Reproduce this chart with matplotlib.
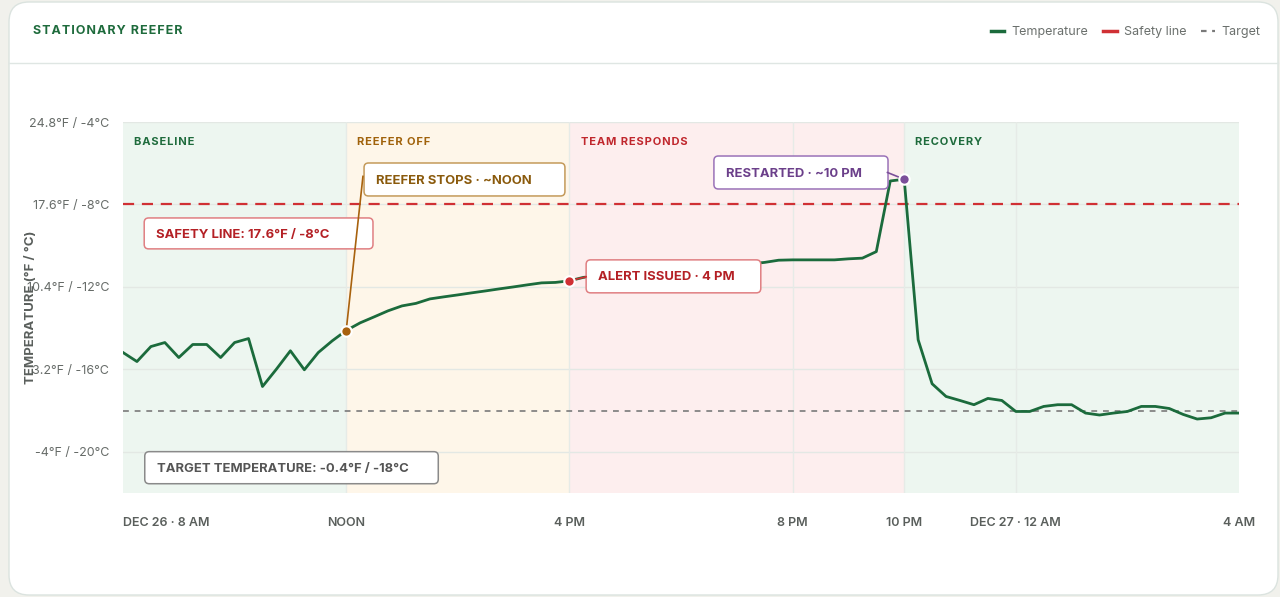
import matplotlib
matplotlib.use("Agg")
import matplotlib.pyplot as plt
from matplotlib.patches import FancyBboxPatch
from matplotlib.lines import Line2D
from matplotlib.transforms import IdentityTransform
import numpy as np

plt.rcParams['font.family'] = ['Inter', 'DejaVu Sans']

# temperature readings every 15 min, Dec 26 8 AM -> Dec 27 4 AM (deg F)
temp_f = [
    4.67, 3.88, 5.19, 5.54, 4.23, 5.37, 5.37, 4.23, 5.54, 5.89, 1.70, 3.22, 4.82, 3.16, 4.67, 5.69, 6.59,
    7.26, 7.78, 8.31, 8.74, 8.96, 9.35, 9.53, 9.70, 9.88, 10.05, 10.23, 10.40, 10.58, 10.75, 10.79, 10.93,
    11.23, 11.36, 11.49, 11.62, 11.71, 11.80, 11.89, 11.97, 12.06, 12.15, 12.23, 12.32, 12.41, 12.54, 12.73,
    12.76, 12.76, 12.76, 12.76, 12.85, 12.91, 13.48, 19.65, 19.80,
    5.78, 1.94, 0.83, 0.48, 0.11, 0.66, 0.48, -0.48, -0.48, -0.04, 0.11, 0.11, -0.62, -0.79, -0.62, -0.48,
    -0.04, -0.04, -0.22, -0.74, -1.14, -1.03, -0.62, -0.62,
]
hours = np.arange(len(temp_f)) * 0.25  # hours since Dec 26 8 AM

safety_f = 17.6
target_f = -0.4

phase_names = ["BASELINE", "REEFER OFF", "TEAM RESPONDS", "RECOVERY"]
phase_start = [0, 4, 8, 14]
phase_end = [4, 8, 14, 20]
phase_fill = ["#edf6f0", "#fef6e9", "#fdeeee", "#edf6f0"]
phase_text = ["#1e6b3c", "#a0620b", "#c0272d", "#1e6b3c"]

xtick_pos = [0, 4, 8, 12, 14, 16, 20]
xtick_lab = ["DEC 26 · 8 AM", "NOON", "4 PM", "8 PM", "10 PM", "DEC 27 · 12 AM", "4 AM"]
ytick_pos = [24.8, 17.6, 10.4, 3.2, -4]
ytick_lab = ["24.8°F / -4°C", "17.6°F / -8°C", "10.4°F / -12°C", "3.2°F / -16°C", "-4°F / -20°C"]

green = "#1b6b3c"
red = "#d03034"
amber = "#a8620e"
purple = "#7b4f9a"


def spaced(s):
    return "\u200a".join(s)


fig = plt.figure(figsize=(12.8, 5.97), dpi=100)
fig.patch.set_facecolor("#f1f1ec")

# white card behind everything
card = FancyBboxPatch((9, 2), 1269, 593, boxstyle="round,pad=0,rounding_size=20",
                      transform=IdentityTransform(), facecolor="white", edgecolor="#dbe3df",
                      lw=1, zorder=-10)
fig.add_artist(card)
fig.add_artist(Line2D([9/1280, 1278/1280], [1-63/597, 1-63/597], transform=fig.transFigure,
                      color="#dfe6e3", lw=1, zorder=-9))
fig.text(33/1280, 1-31/597, spaced("STATIONARY REEFER"), fontsize=9, fontweight="bold",
         color="#1e6b3c", va="center", ha="left")

ax = fig.add_axes([123/1280, 1-493/597, 1116/1280, 371/597])
ax.set_facecolor("none")
ax.set_xlim(0, 20)
ax.set_ylim(-7.6, 24.8)

for i in range(len(phase_names)):
    ax.axvspan(phase_start[i], phase_end[i], color=phase_fill[i], lw=0, zorder=0)
    ax.annotate(spaced(phase_names[i]), xy=(phase_start[i], 1), xycoords=("data", "axes fraction"),
                xytext=(8, -14.5), textcoords="offset points", fontsize=8, fontweight="bold",
                color=phase_text[i], va="center", ha="left", zorder=5)

for y in ytick_pos:
    ax.axhline(y, color="#e3e8e4", lw=1, zorder=0.5)
for x in xtick_pos[1:-1]:
    ax.axvline(x, color="#e6ebe7", lw=1, zorder=0.5)

ax.axhline(safety_f, color=red, lw=1.6, ls=(0, (5, 3.5)), zorder=2)
ax.axhline(target_f, color="#7a7a7a", lw=1.2, ls=(0, (3.5, 3.5)), zorder=2)

ax.plot(hours, temp_f, color=green, lw=2, zorder=3)

for s in ax.spines.values():
    s.set_visible(False)
ax.set_xticks(xtick_pos)
ax.set_xticklabels(xtick_lab, fontsize=9, fontweight="semibold", color="#5a5f5c")
ax.get_xticklabels()[0].set_ha("left")
ax.set_yticks(ytick_pos)
ax.set_yticklabels(ytick_lab, fontsize=9, color="#666b68")
ax.tick_params(axis="x", length=0, pad=17)
ax.tick_params(axis="y", length=0, pad=10)

fig.text(31/1280, 1-307/597, "TEMPERATURE (°F / °C)", rotation=90, fontsize=9.5,
         fontweight="bold", color="#5a5f5c", va="center", ha="center")

# callouts: (x0, x1, y_bottom, y_top) in hours / deg F
asp = (1116/20) / (371/32.4)


def callout(x0, x1, y0, y1, text, tcolor, ecolor):
    box = FancyBboxPatch((x0, y0), x1 - x0, y1 - y0,
                         boxstyle="round,pad=0,rounding_size=0.08", mutation_aspect=asp,
                         facecolor="white", edgecolor=ecolor, lw=1.1, zorder=4)
    ax.add_patch(box)
    ax.text(x0 + 0.22, (y0 + y1) / 2 - 0.1, text, fontsize=9.4, fontweight="bold", color=tcolor,
            va="center", ha="left", zorder=5)


callout(0.38, 4.48, 13.72, 16.42, "SAFETY LINE: 17.6°F / -8°C", "#b42025", "#e07f82")
callout(0.39, 5.65, -6.79, -3.99, "TARGET TEMPERATURE: -0.4°F / -18°C", "#555555", "#8a8a8a")
callout(4.32, 7.92, 18.34, 21.22, "REEFER STOPS · ~NOON", "#8a5a0c", "#c49a5a")
callout(8.30, 11.43, 9.88, 12.76, "ALERT ISSUED · 4 PM", "#b42025", "#e07f82")
callout(10.59, 13.71, 18.95, 21.83, "RESTARTED · ~10 PM", "#6b3f8a", "#9a72b8")

# connectors + event markers
events = [(16, amber, 4.30, 20.05), (32, red, 8.30, 11.28), (56, purple, 13.70, 20.39)]
for idx, col, bx, by in events:
    ax.plot([hours[idx], bx], [temp_f[idx], by], color=col, lw=1.2, zorder=4.5)
    ax.plot(hours[idx], temp_f[idx], "o", ms=7.5, color=col, mec="white", mew=1.5, zorder=6)

handles = [Line2D([], [], color=green, lw=2.5),
           Line2D([], [], color=red, lw=2.5),
           Line2D([], [], color="#7a7a7a", lw=1.6, ls=(0, (2.5, 2.5)))]
fig.legend(handles, ["Temperature", "Safety line", "Target"], loc="center right",
           bbox_to_anchor=(1272/1280, 1-32/597), ncol=3, frameon=False, fontsize=9,
           labelcolor="#6b706d", handlelength=1.1, handletextpad=0.55, columnspacing=1.2)

fig.savefig("out.png", dpi=100, facecolor=fig.get_facecolor())
